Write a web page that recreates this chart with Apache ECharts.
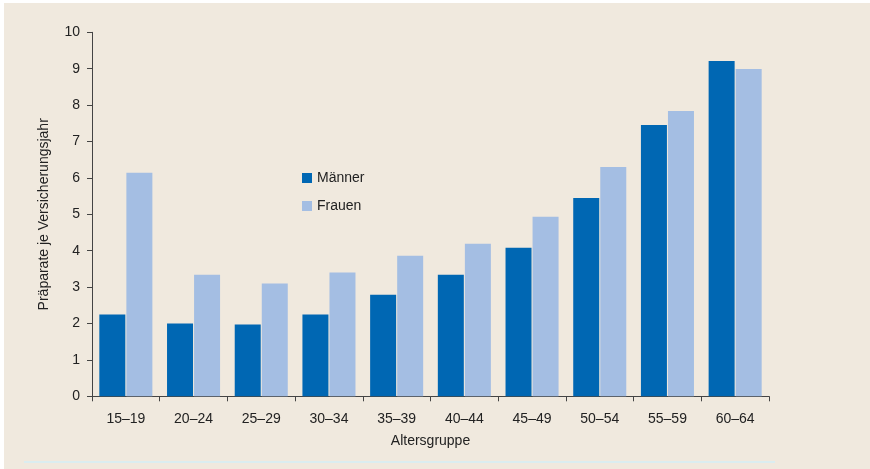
<!DOCTYPE html>
<html>
<head>
<meta charset="utf-8">
<script src="https://cdn.jsdelivr.net/npm/echarts@6/dist/echarts.min.js"></script>
<style>
html,body{margin:0;padding:0;background:#ffffff;}
#frame{position:absolute;left:4px;top:3px;width:866px;height:466px;background:#F0E9DE;}
#chart{position:absolute;left:0;top:0;width:870px;height:469px;}
</style>
</head>
<body>
<div id="frame"></div>
<div id="chart"></div>
<script>
const categories = ['15–19','20–24','25–29','30–34','35–39','40–44','45–49','50–54','55–59','60–64'];
const maenner = [2.25, 2.0, 1.97, 2.25, 2.79, 3.34, 4.08, 5.45, 7.45, 9.21];
const frauen  = [6.14, 3.34, 3.10, 3.40, 3.86, 4.19, 4.93, 6.30, 7.84, 8.99];
const yTicks = [0,1,2,3,4,5,6,7,8,9,10];
const seriesNames = ['Männer','Frauen'];
const yAxisTitle = 'Präparate je Versicherungsjahr';
const xAxisTitle = 'Altersgruppe';

const chart = echarts.init(document.getElementById('chart'), null, {renderer:'canvas'});
const font = 'Liberation Sans, Arial, sans-serif';
chart.setOption({
  backgroundColor: 'transparent',
  animation: false,
  textStyle: {fontFamily: font},
  grid: {left: 92, right: 101, top: 32.3, bottom: 72.7, containLabel: false},
  legend: {
    orient: 'vertical', left: 297, top: 166,
    itemWidth: 10, itemHeight: 10, itemGap: 14,
    icon: 'rect',
    textStyle: {fontSize: 14, color: '#222', fontFamily: font, lineHeight: 14},
    data: seriesNames
  },
  xAxis: {
    type: 'category', data: categories,
    name: xAxisTitle, nameLocation: 'middle', nameGap: 38,
    nameTextStyle: {fontSize: 14, color: '#222', fontFamily: font},
    axisLine: {lineStyle: {color: '#444', width: 1}},
    axisTick: {show: true, length: 5, alignWithLabel: false, lineStyle: {color: '#444'}},
    axisLabel: {fontSize: 14, color: '#222', margin: 16, fontFamily: font, interval: 0}
  },
  yAxis: {
    type: 'value', min: yTicks[0], max: yTicks[yTicks.length-1], interval: 1,
    name: yAxisTitle, nameLocation: 'middle', nameGap: 41, nameRotate: 90,
    nameTextStyle: {fontSize: 14, color: '#222', fontFamily: font},
    axisLine: {show: true, lineStyle: {color: '#444', width: 1}},
    axisTick: {show: true, length: 5, lineStyle: {color: '#444'}},
    axisLabel: {fontSize: 14, color: '#222', margin: 12, fontFamily: font},
    splitLine: {show: false}
  },
  series: [
    {name: seriesNames[0], type: 'bar', data: maenner, barWidth: 26, barGap: '4%',
     itemStyle: {color: '#0067B3'}},
    {name: seriesNames[1], type: 'bar', data: frauen, barWidth: 26,
     itemStyle: {color: '#A4BEE3'}}
  ],
  graphic: [
    {type: 'line', shape: {x1: 24, y1: 462, x2: 775, y2: 462},
     style: {stroke: '#D4EEF6', lineWidth: 1.5}, silent: true}
  ]
});
</script>
</body>
</html>
